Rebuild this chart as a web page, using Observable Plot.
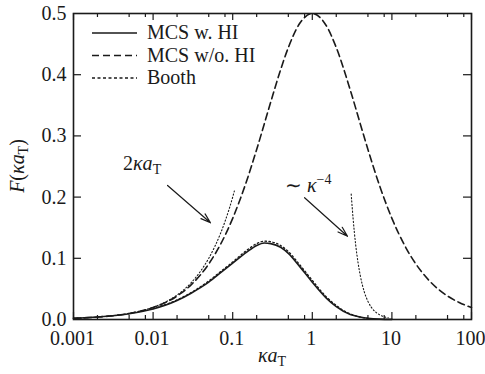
<!DOCTYPE html>
<html>
<head>
<meta charset="utf-8">
<script src="https://cdn.jsdelivr.net/npm/d3@7"></script>
<script src="https://cdn.jsdelivr.net/npm/@observablehq/plot@0.6"></script>
<style>
  html, body { margin: 0; padding: 0; background: #fff; }
  svg { display: block; }
</style>
</head>
<body>
<div id="chart"></div>
<script>
// ---- data ----
const noHI_x = [0.001,0.002,0.005,0.01,0.02,0.03,0.05,0.07,0.1,0.15,0.2,0.3,0.4,0.5,0.7,1,1.5,2,3,4,5,7,10,15,20,30,50,70,100];
const noHI_F = [0.0020,0.0040,0.0099,0.0196,0.0384,0.0566,0.0907,0.1223,0.1653,0.2268,0.2778,0.3550,0.4082,0.4444,0.4844,0.5000,0.4800,0.4444,0.3750,0.3200,0.2778,0.2188,0.1653,0.1172,0.0907,0.0624,0.0384,0.0278,0.0196];

const hi_x = [0.001,0.002,0.005,0.01,0.02,0.03,0.05,0.07,0.1,0.15,0.2,0.25,0.3,0.4,0.5,0.7,1,1.5,2,3,4,5,7,10];
const hi_F = [0.002,0.004,0.0095,0.0172,0.031,0.043,0.061,0.076,0.092,0.110,0.121,0.125,0.124,0.118,0.108,0.086,0.061,0.035,0.021,0.008,0.004,0.002,0.0006,0.0002];

const booth_x = [0.01,0.02,0.03,0.05,0.07,0.1,0.15,0.2,0.25,0.3,0.4,0.5,0.7,1,1.5,2,3,4,5];
const booth_F = [0.0178,0.032,0.044,0.063,0.078,0.094,0.113,0.124,0.128,0.127,0.121,0.111,0.089,0.064,0.037,0.023,0.009,0.004,0.002];

const lowAsym_x = [0.001,0.0015,0.002,0.003,0.005,0.007,0.01,0.015,0.02,0.03,0.04,0.05,0.06,0.07,0.08,0.09,0.1,0.105];
const lowAsym_F = [0.002,0.003,0.004,0.006,0.010,0.014,0.020,0.030,0.040,0.060,0.080,0.100,0.120,0.140,0.160,0.180,0.200,0.210];

const highAsym_x = [3.08,3.25,3.5,3.75,4,4.5,5,5.5,6,7,8,9];
const highAsym_F = [0.205,0.166,0.123,0.0935,0.0723,0.0451,0.0296,0.0202,0.0143,0.0077,0.0045,0.0028];

const xMajor = [0.001,0.01,0.1,1,10,100];
const xMinor = [0.002,0.005,0.008,0.02,0.05,0.08,0.2,0.5,0.8,2,5,8,20,50,80];
const yLabels = [0,0.1,0.2,0.3,0.4,0.5];
const yInner = [0.1,0.2,0.3,0.4];

// annotation arrows (data coordinates)
const arrows = [
  {x1: 0.0152, y1: 0.219, x2: 0.0526, y2: 0.158},
  {x1: 0.80, y1: 0.199, x2: 2.77, y2: 0.136}
];

const zip = (xs, ys) => xs.map((x, i) => ({x, y: ys[i]}));
const noHI = zip(noHI_x, noHI_F);
const hi = zip(hi_x, hi_F);
const booth = zip(booth_x, booth_F);
const lowAsym = zip(lowAsym_x, lowAsym_F);
const highAsym = zip(highAsym_x, highAsym_F);

const W = 485, H = 374, mT = 13, mB = 55, mL = 73, mR = 14;
const pw = W - mL - mR, ph = H - mT - mB;
const FONT = "Liberation Serif";
const INK = "#1a1a1a";

const chart = Plot.plot({
  width: W, height: H,
  marginTop: mT, marginBottom: mB, marginLeft: mL, marginRight: mR,
  style: {fontFamily: FONT, fontSize: "20px", color: INK, background: "#fff"},
  x: {type: "log", domain: [0.001, 100]},
  y: {domain: [0, 0.5]},
  marks: [
    Plot.tickX(xMajor, {x: d => d, insetTop: ph - 7, stroke: INK, strokeWidth: 1.2}),
    Plot.tickX(xMajor, {x: d => d, insetBottom: ph - 7, stroke: INK, strokeWidth: 1.2}),
    Plot.tickX(xMinor, {x: d => d, insetTop: ph - 4, stroke: INK, strokeWidth: 1.2}),
    Plot.tickX(xMinor, {x: d => d, insetBottom: ph - 4, stroke: INK, strokeWidth: 1.2}),
    Plot.tickY(yInner, {y: d => d, insetRight: pw - 8, stroke: INK, strokeWidth: 1.2}),
    Plot.tickY(yInner, {y: d => d, insetLeft: pw - 8, stroke: INK, strokeWidth: 1.2}),
    Plot.axisX({ticks: xMajor, tickSize: 0, tickPadding: 11, tickFormat: d => String(d), label: null, fill: INK, dx: -1}),
    Plot.axisY({ticks: yLabels, tickSize: 0, tickPadding: 7, tickFormat: d3.format(".1f"), label: null, fill: INK}),
    Plot.line(lowAsym, {x: "x", y: "y", curve: "monotone-x", stroke: INK, strokeWidth: 1.1, strokeDasharray: "1.2,2.2"}),
    Plot.line(highAsym, {x: "x", y: "y", curve: "monotone-x", stroke: INK, strokeWidth: 1.1, strokeDasharray: "1.2,2.2"}),
    Plot.line(booth, {x: "x", y: "y", curve: "monotone-x", stroke: INK, strokeWidth: 1.3, strokeDasharray: "1.5,2.5"}),
    Plot.line(noHI, {x: "x", y: "y", curve: "monotone-x", stroke: INK, strokeWidth: 1.6, strokeDasharray: "7,4"}),
    Plot.line(hi, {x: "x", y: "y", curve: "monotone-x", stroke: INK, strokeWidth: 1.6}),
    Plot.arrow(arrows, {x1: "x1", y1: "y1", x2: "x2", y2: "y2", headLength: 13, headAngle: 35, stroke: INK, strokeWidth: 1.2}),
    Plot.frame({stroke: INK, strokeWidth: 1.6})
  ]
});

document.getElementById("chart").appendChild(chart);

const svg = d3.select(chart);
const xs = chart.scale("x"), ys = chart.scale("y");

function addText(x, y, anchor) {
  return svg.append("text").attr("x", x).attr("y", y).attr("text-anchor", anchor)
    .attr("fill", INK).attr("font-family", FONT).attr("font-size", 20);
}

const legend = [
  {label: "MCS w. HI", dash: null, w: 1.6, y: 33},
  {label: "MCS w/o. HI", dash: "7,4", w: 1.6, y: 55.5},
  {label: "Booth", dash: "3,2.5", w: 1.3, y: 78}
];
legend.forEach(d => {
  svg.append("line").attr("x1", 92).attr("x2", 137).attr("y1", d.y).attr("y2", d.y)
    .attr("stroke", INK).attr("stroke-width", d.w).attr("stroke-dasharray", d.dash);
  addText(147, d.y, "start").attr("dy", "0.32em").text(d.label);
});

function mathText(g, parts) {
  parts.forEach(p => {
    const t = g.append("tspan").text(p.t);
    if (p.i) t.attr("font-style", "italic");
    if (p.s) t.attr("font-size", p.s);
    if (p.dy) t.attr("dy", p.dy);
  });
}

mathText(addText(xs.apply(0.00425), ys.apply(0.2435), "start"),
  [{t: "2"}, {t: "κa", i: true}, {t: "T", s: 14, dy: 4}]);
mathText(addText(xs.apply(0.46), ys.apply(0.2075), "start"),
  [{t: "∼ "}, {t: "κ", i: true}, {t: "−4", s: 14, dy: -8}]);

mathText(addText(mL + pw / 2, 362, "middle"), [{t: "κa", i: true}, {t: "T", s: 14, dy: 4}]);

const yl = addText(0, 0, "middle").attr("transform", `translate(24,${mT + ph / 2}) rotate(-90)`);
mathText(yl, [{t: "F", i: true}, {t: "("}, {t: "κa", i: true}, {t: "T", s: 14, dy: 4}, {t: ")", dy: -4}]);
</script>
</body>
</html>
